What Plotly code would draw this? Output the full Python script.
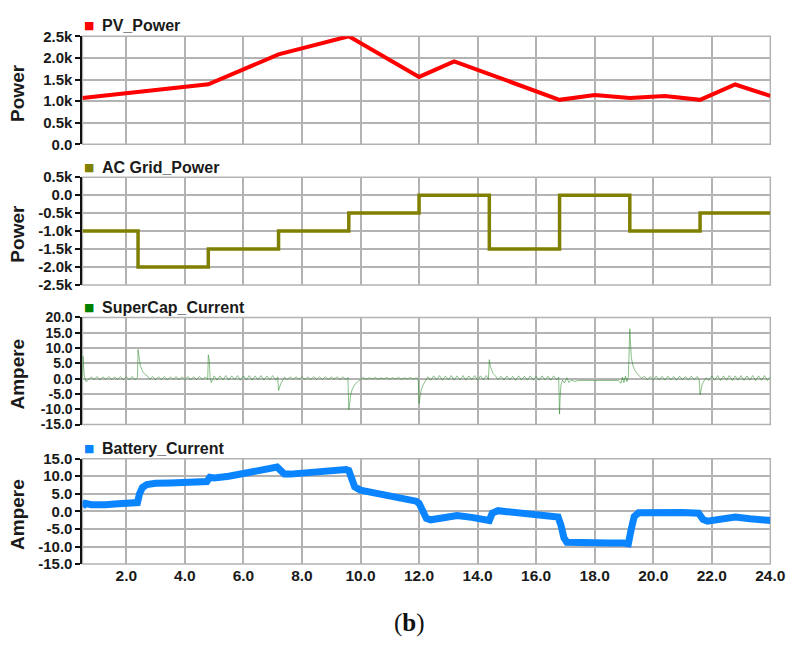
import plotly.graph_objects as go
from plotly.subplots import make_subplots

# ---------------- data ----------------
pv_time = [0.5, 2.4, 4.8, 7.2, 9.6, 12.0, 13.2, 16.8, 18.0, 19.2, 20.4, 21.6, 22.8, 24.0]
pv_power = [1070, 1210, 1390, 2080, 2500, 1560, 1920, 1030, 1140, 1070, 1120, 1030, 1385, 1120]

grid_time = [0.5, 2.4, 4.8, 7.2, 9.6, 12.0, 14.4, 16.8, 19.2, 21.6, 24.0]
grid_power = [-1000, -2000, -1500, -1000, -500, 0, -1500, 0, -1000, -500, -500]

sc_time = [
    0.50, 0.52, 0.56, 0.62, 0.70, 0.80, 0.90, 1.00, 1.10, 1.20, 1.30, 1.40, 1.50, 1.60, 1.70, 1.80, 1.90, 2.00, 2.10, 2.20, 2.30, 2.38,
    2.40, 2.44, 2.48, 2.53, 2.58, 2.65, 2.72, 2.80, 2.90, 3.00, 3.10, 3.20, 3.30, 3.40, 3.50, 3.60, 3.70, 3.80, 3.90, 4.00, 4.10, 4.20, 4.30, 4.40, 4.50, 4.60, 4.70, 4.78,
    4.80, 4.83, 4.86, 4.90, 5.00, 5.10, 5.20, 5.30, 5.40, 5.50, 5.60, 5.70, 5.80, 5.90, 6.00, 6.10, 6.20, 6.30, 6.40, 6.50, 6.60, 6.70, 6.80, 6.90, 7.00, 7.10, 7.17,
    7.20, 7.24, 7.28, 7.33, 7.40, 7.50, 7.60, 7.70, 7.80, 7.90, 8.00, 8.10, 8.20, 8.30, 8.40, 8.50, 8.60, 8.70, 8.80, 8.90, 9.00, 9.10, 9.20, 9.30, 9.40, 9.50, 9.57,
    9.60, 9.63, 9.67, 9.72, 9.80, 9.90, 10.00, 10.10, 10.20, 10.30, 10.40, 10.50, 10.60, 10.70, 10.80, 10.90, 11.00, 11.10, 11.20, 11.30, 11.40, 11.50, 11.60, 11.70, 11.80, 11.90, 11.97,
    12.00, 12.04, 12.08, 12.14, 12.22, 12.30, 12.40, 12.50, 12.60, 12.70, 12.80, 12.90, 13.00, 13.10, 13.20, 13.30, 13.40, 13.50, 13.60, 13.70, 13.80, 13.90, 14.00, 14.10, 14.20, 14.30, 14.37,
    14.40, 14.43, 14.47, 14.52, 14.60, 14.70, 14.80, 14.90, 15.00, 15.10, 15.20, 15.30, 15.40, 15.50, 15.60, 15.70, 15.80, 15.90, 16.00, 16.10, 16.20, 16.30, 16.40, 16.50, 16.60, 16.70, 16.77,
    16.80, 16.82, 16.85, 16.90, 16.97, 17.05, 17.12, 17.20, 17.30, 17.45, 17.60, 17.80, 18.00, 18.20, 18.40, 18.60, 18.80, 18.90, 18.95, 19.00, 19.05, 19.10, 19.15,
    19.20, 19.22, 19.25, 19.30, 19.36, 19.44, 19.52, 19.60, 19.70, 19.80, 19.90, 20.00, 20.10, 20.20, 20.30, 20.40, 20.50, 20.60, 20.70, 20.80, 20.90, 21.00, 21.10, 21.20, 21.30, 21.40, 21.50, 21.57,
    21.60, 21.63, 21.67, 21.72, 21.80, 21.90, 22.00, 22.10, 22.20, 22.30, 22.40, 22.50, 22.60, 22.70, 22.80, 22.90, 23.00, 23.10, 23.20, 23.30, 23.40, 23.50, 23.60, 23.70, 23.80, 23.90, 24.00,
]
sc_current = [
    0.0, 7.3, 1.2, -1.0, -0.4, 0.6, -0.3, 0.7, -0.4, 0.6, -0.3, 0.7, -0.4, 0.6, -0.3, 0.7, -0.4, 0.6, -0.3, 0.7, -0.4, 0.5,
    9.5, 6.2, 4.2, 2.9, 2.0, 1.3, 0.9, -0.2, 0.7, -0.4, 0.6, -0.3, 0.7, -0.4, 0.6, -0.3, 0.7, -0.4, 0.6, -0.3, 0.7, -0.4, 0.6, -0.3, 0.7, -0.4, 0.6, -0.3,
    7.8, 6.5, 0.4, -1.3, 0.9, -0.5, 0.9, -0.4, 1.0, -0.5, 0.9, -0.4, 1.0, -0.5, 0.9, -0.4, 1.0, -0.5, 0.9, -0.4, 1.0, -0.5, 0.9, -0.4, 1.0, -0.5, 0.6,
    -3.9, -2.6, -1.5, -0.8, 0.5, -0.3, 0.6, -0.3, 0.6, -0.2, 0.6, -0.3, 0.6, -0.3, 0.6, -0.2, 0.6, -0.3, 0.6, -0.3, 0.6, -0.2, 0.6, -0.3, 0.6, -0.3, 0.4,
    -10.2, -7.0, -5.0, -3.4, -2.0, -1.0, -0.3, 0.4, -0.2, 0.3, -0.1, 0.4, -0.2, 0.3, -0.1, 0.4, -0.2, 0.3, -0.1, 0.4, -0.2, 0.3, -0.1, 0.4, -0.2, 0.3, -0.1,
    -8.1, -5.5, -3.5, -2.0, -0.8, 0.6, -0.5, 0.9, -0.4, 1.0, -0.5, 0.9, -0.4, 1.0, -0.5, 0.9, -0.4, 1.0, -0.5, 0.9, -0.4, 1.0, -0.5, 0.9, -0.4, 1.0, -0.3,
    6.2, 4.2, 2.8, 1.8, 1.0, -0.3, 0.8, -0.5, 0.9, -0.4, 0.8, -0.5, 0.9, -0.4, 0.8, -0.5, 0.9, -0.4, 0.8, -0.5, 0.9, -0.4, 0.8, -0.5, 0.9, -0.4, 0.5,
    -11.6, -6.0, -2.0, -0.5, -1.4, 0.3, -1.3, -0.4, -0.9, -0.6, -0.7, -0.6, -0.6, -0.6, -0.6, -0.5, -0.6, -1.5, 0.5, -1.3, 0.8, -1.0, 0.6,
    16.3, 11.0, 7.0, 4.5, 3.0, 1.8, 1.0, 0.1, 0.8, -0.4, 0.7, -0.5, 0.8, -0.4, 0.7, -0.5, 0.8, -0.4, 0.7, -0.5, 0.8, -0.4, 0.7, -0.5, 0.8, -0.4, 0.7, -0.3,
    -5.3, -3.2, -2.0, -1.0, 0.3, -0.6, 0.9, -0.5, 1.0, -0.6, 0.9, -0.5, 1.0, -0.6, 0.9, -0.5, 1.0, -0.6, 0.9, -0.5, 1.0, -0.6, 0.9, -0.5, 1.0, -0.6, 0.5,
]

bat_time = [0.5, 0.6, 0.8, 1.0, 1.3, 1.6, 2.0, 2.3, 2.38, 2.45, 2.55, 2.7, 3.0, 3.5, 4.0, 4.5, 4.75, 4.85, 5.0, 5.5,
            6.0, 6.5, 7.0, 7.15, 7.25, 7.4, 7.6, 8.0, 8.5, 9.0, 9.5, 9.6, 9.7, 9.8, 10.0, 10.5, 11.0, 11.5, 11.9, 12.0,
            12.1, 12.25, 12.4, 12.8, 13.3, 13.8, 14.3, 14.4, 14.5, 14.7, 15.0, 15.5, 16.0, 16.5, 16.75, 16.85, 16.95, 17.05, 17.5, 18.0,
            18.5, 19.0, 19.15, 19.25, 19.35, 19.5, 20.0, 20.5, 21.0, 21.55, 21.7, 21.85, 22.2, 22.8, 23.3, 24.0]
bat_current = [1.3, 2.3, 1.9, 1.8, 1.9, 2.1, 2.2, 2.3, 2.5, 5.0, 6.8, 7.6, 8.0, 8.1, 8.3, 8.6, 8.5, 9.7, 9.5, 10.0,
               10.8, 11.5, 12.2, 12.6, 11.8, 10.6, 10.6, 10.9, 11.2, 11.6, 11.9, 11.6, 9.0, 7.0, 6.0, 5.3, 4.2, 3.4, 2.9, 2.3,
               0.0, -2.0, -2.4, -1.8, -1.2, -1.7, -2.2, -2.6, -0.5, 0.2, -0.1, -0.6, -1.0, -1.4, -1.6, -4.0, -7.5, -8.8, -9.0, -9.0,
               -9.0, -9.0, -9.2, -5.0, -1.5, -0.4, -0.2, -0.3, -0.3, -0.5, -2.3, -2.8, -2.3, -1.6, -2.1, -2.6]

x_ticks = [2, 4, 6, 8, 10, 12, 14, 16, 18, 20, 22, 24]
x_tick_text = ["2.0", "4.0", "6.0", "8.0", "10.0", "12.0", "14.0", "16.0", "18.0", "20.0", "22.0", "24.0"]
pv_ticks = [0, 500, 1000, 1500, 2000, 2500]
pv_tick_text = ["0.0", "0.5k", "1.0k", "1.5k", "2.0k", "2.5k"]
grid_ticks = [-2500, -2000, -1500, -1000, -500, 0, 500]
grid_tick_text = ["-2.5k", "-2.0k", "-1.5k", "-1.0k", "-0.5k", "0.0", "0.5k"]
sc_ticks = [-15, -10, -5, 0, 5, 10, 15, 20]
sc_tick_text = ["-15.0", "-10.0", "-5.0", "0.0", "5.0", "10.0", "15.0", "20.0"]
bat_ticks = [-15, -10, -5, 0, 5, 10, 15]
bat_tick_text = ["-15.0", "-10.0", "-5.0", "0.0", "5.0", "10.0", "15.0"]

series_names = ["PV_Power", "AC Grid_Power", "SuperCap_Current", "Battery_Current"]
series_colors = ["#ff0000", "#808000", "#008000", "#0a84ff"]
y_titles = ["Power", "Power", "Ampere", "Ampere"]

# ---------------- layout geometry (pixels) ----------------
W, H = 802, 651
X0, X1 = 84, 785
panels_px = [(28, 139), (172.7, 283.3), (316.7, 426.7), (461.7, 570)]
ytick_sizes = [15, 15, 14, 15]

FONT = "Liberation Sans, Arial, sans-serif"

fig = make_subplots(rows=4, cols=1)

fig.add_trace(go.Scatter(x=pv_time, y=pv_power, mode="lines",
                         line=dict(color=series_colors[0], width=4), showlegend=False), row=1, col=1)
fig.add_trace(go.Scatter(x=grid_time, y=grid_power, mode="lines",
                         line=dict(color=series_colors[1], width=3.5, shape="hv"), showlegend=False), row=2, col=1)
fig.add_trace(go.Scatter(x=sc_time, y=sc_current, mode="lines",
                         line=dict(color="rgba(40,140,40,0.55)", width=1), showlegend=False), row=3, col=1)
fig.add_trace(go.Scatter(x=bat_time, y=bat_current, mode="lines",
                         line=dict(color=series_colors[3], width=7), showlegend=False), row=4, col=1)

y_cfg = [(pv_ticks, pv_tick_text, [0, 2500]),
         (grid_ticks, grid_tick_text, [-2500, 500]),
         (sc_ticks, sc_tick_text, [-15, 20]),
         (bat_ticks, bat_tick_text, [-15, 15])]

annotations = []
shapes = []
for i in range(4):
    top, bot = panels_px[i]
    dom = [1 - bot / H, 1 - top / H]
    xa = "xaxis" if i == 0 else f"xaxis{i+1}"
    ya = "yaxis" if i == 0 else f"yaxis{i+1}"
    ticks, ttext, rng = y_cfg[i]
    fig.layout[xa].update(
        domain=[X0 / W, X1 / W], range=[0.5, 24], tickvals=x_ticks,
        ticktext=[f"<b>{t}</b>" for t in x_tick_text],
        showticklabels=(i == 3), showgrid=True, gridcolor="#b3b3b3", gridwidth=1.5,
        zeroline=False, showline=False, ticks="",
        tickfont=dict(family=FONT, size=15.5, color="#1a1a1a"),
    )
    fig.layout[ya].update(
        domain=dom, range=rng, tickvals=ticks,
        ticktext=[f"<b>{t}</b>" for t in ttext],
        showgrid=True, gridcolor="#b3b3b3", gridwidth=1.5, zeroline=False,
        showline=True, linecolor="#111111", linewidth=2,
        ticks="outside", ticklen=5, tickwidth=1.5, tickcolor="#111111",
        tickfont=dict(family=FONT, size=ytick_sizes[i], color="#1a1a1a"),
    )
    xref = "x" if i == 0 else f"x{i+1}"
    yref = "y" if i == 0 else f"y{i+1}"
    shapes.append(dict(type="rect", xref=f"{xref} domain", yref=f"{yref} domain",
                       x0=0, x1=1, y0=0, y1=1, line=dict(color="#b3b3b3", width=1.5),
                       layer="below"))
    # y-axis title
    annotations.append(dict(text=f"<b>{y_titles[i]}</b>", xref="paper", yref="paper",
                            x=18 / W, y=1 - ((top + bot) / 2 + 3) / H, showarrow=False,
                            textangle=-90, xanchor="center", yanchor="middle",
                            font=dict(family=FONT, size=19, color="#1a1a1a")))
    # legend marker + label
    leg_y = [17, 162.5, 306, 451.5][i]
    annotations.append(dict(text="■", xref="paper", yref="paper", x=91 / W, y=1 - leg_y / H,
                            showarrow=False, xanchor="center", yanchor="middle",
                            font=dict(family="DejaVu Sans", size=11, color=series_colors[i])))
    annotations.append(dict(text=f"<b>{series_names[i]}</b>", xref="paper", yref="paper",
                            x=102 / W, y=1 - leg_y / H, showarrow=False,
                            xanchor="left", yanchor="middle",
                            font=dict(family=FONT, size=16, color="#1a1a1a")))

annotations.append(dict(text="(<b>b</b>)", xref="paper", yref="paper", x=417 / W, y=1 - 630 / H,
                        showarrow=False, xanchor="center", yanchor="middle",
                        font=dict(family="Liberation Serif, Times New Roman, serif", size=25, color="#111111")))

fig.update_layout(
    width=W, height=H, margin=dict(l=0, r=0, t=0, b=0),
    paper_bgcolor="white", plot_bgcolor="white",
    annotations=annotations, shapes=shapes, showlegend=False,
)

fig.write_html("out.html")
